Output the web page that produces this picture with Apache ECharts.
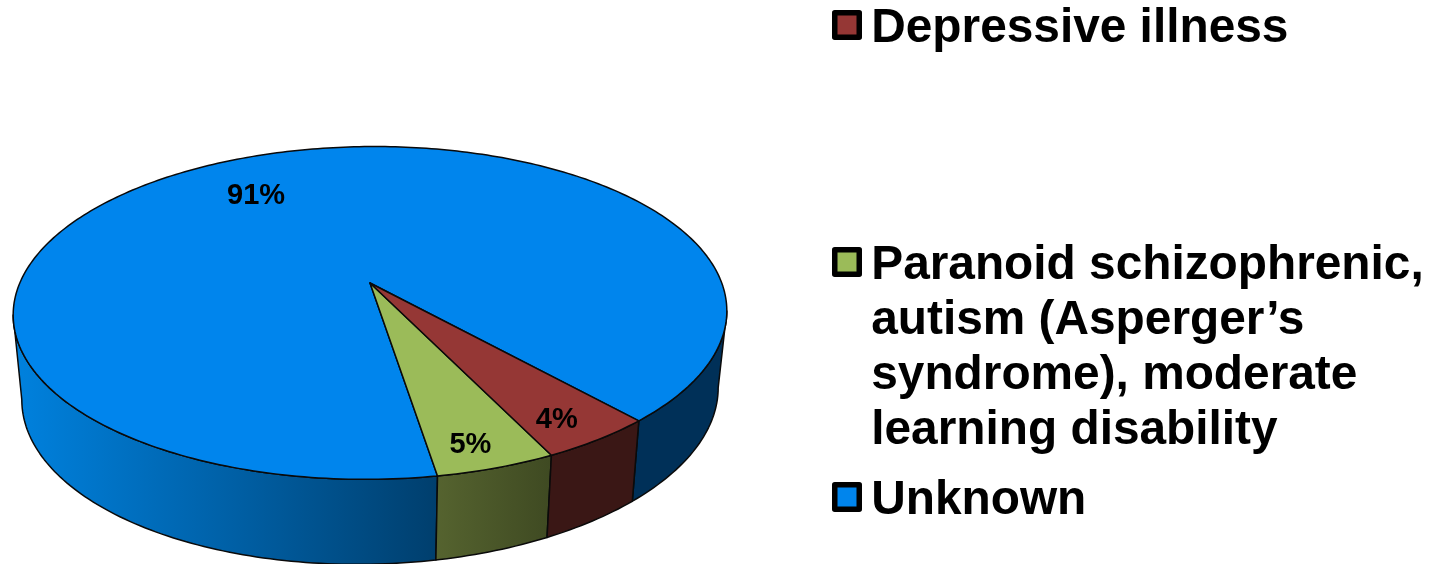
<!DOCTYPE html>
<html>
<head>
<meta charset="utf-8">
<style>html,body{margin:0;padding:0;background:#fff}#main{width:1441px;height:564px}</style>
<script src="https://cdn.jsdelivr.net/npm/echarts@6/dist/echarts.min.js"></script>
</head>
<body>
<div id="main"></div>
<script>
// slices in clockwise order from the red/blue edge
var sliceNames=['Depressive illness','Paranoid schizophrenic,\nautism (Asperger\u2019s\nsyndrome), moderate\nlearning disability','Unknown'];
var sliceValues=[4.4,4.6,91];
var sliceColors=['#953735','#9BBB59','#0085ED'];
var wallStops=[
  [[0,'#3A1715'],[1,'#3A1715']],
  [[0,'#55632F'],[1,'#3F4A22']],
  [[0,'#0080DC'],[0.3,'#0060A6'],[0.605,'#003E6C'],[0.605,'#003058'],[1,'#003058']]
];
var wallRange=[[540,640],[437,550],[23,716]];
var labelRadius=[0.875,0.89,0.70];
var labelShift=[1.8,1.6,-5.6];
var legendCentre=[25,262,497];

// projection of the pie disc (perspective, so the apex sits above the ellipse centre)
var START=48.5, K=0.18, AX=370;
var TOP={ay:283,a:351,b:161,tilt:2}, BOTTOM={ay:363,a:342.5,b:165,tilt:6};
var TANGENT=Math.asin(K)*180/Math.PI;

function project(plane,deg,r){
  var t=deg*Math.PI/180, x=r*Math.cos(t), y=r*Math.sin(t), w=1-K*y;
  return [AX+plane.a*x/w, plane.ay+plane.b*y/w-plane.tilt*x/w];
}
function arc(plane,a,b){
  var pts=[], d;
  for(d=a;d<b;d+=1) pts.push(project(plane,d,1));
  pts.push(project(plane,b,1));
  return pts;
}
function sliceAngles(i){
  var total=sliceValues.reduce(function(s,v){return s+v;},0), a=START, k;
  for(k=0;k<i;k++) a+=sliceValues[k]/total*360;
  return [a,a+sliceValues[i]/total*360];
}
function wallPieces(i,style){
  var ang=sliceAngles(i), out=[];
  [[TANGENT,180-TANGENT],[360+TANGENT,540-TANGENT]].forEach(function(v){
    var a=Math.max(ang[0],v[0]), b=Math.min(ang[1],v[1]);
    if(a>=b) return;
    out.push({type:'polygon',shape:{points:arc(TOP,a,b).concat(arc(BOTTOM,a,b).reverse())},style:style});
  });
  return out;
}
function renderSlice(i){
  return function(){
    var ang=sliceAngles(i), mid=(ang[0]+ang[1])/2+labelShift[i], lab=project(TOP,mid,labelRadius[i]);
    var edge={stroke:'#0a0a0a',lineWidth:1.5,lineJoin:'round'};
    var wallFill=new echarts.graphic.LinearGradient(wallRange[i][0],0,wallRange[i][1],0,
      wallStops[i].map(function(s){return {offset:s[0],color:s[1]};}),true);
    var kids=wallPieces(i,echarts.util.extend({fill:wallFill},edge));
    kids.push({type:'polygon',
      shape:{points:[project(TOP,0,0)].concat(arc(TOP,ang[0],ang[1]))},
      style:echarts.util.extend({fill:sliceColors[i]},edge)});
    kids.push({type:'text',z2:10,style:{
      x:lab[0],y:lab[1],text:Math.round(sliceValues[i])+'%',align:'center',verticalAlign:'middle',
      fill:'#000',font:'bold 29px "Liberation Sans"'}});
    return {type:'group',children:kids};
  };
}

var LINE=55, NUDGE=8;
var series=[2,1,0].map(function(i){
  return {type:'custom',name:sliceNames[i],coordinateSystem:'none',silent:true,animation:false,
    itemStyle:{color:sliceColors[i]},data:[[sliceValues[i]]],renderItem:renderSlice(i)};
});
var legends=sliceNames.map(function(n,i){
  var lines=n.split('\n'), extra=lines.length-1, blank=[];
  // blank lines keep the marker level with the first line, the thin line nudges text below marker centre
  for(var k=0;k<extra;k++) blank.push('{t| }');
  var label=['{g| }'].concat(blank,lines.map(function(l){return '{t|'+l+'}';})).join('\n');
  return {
    data:[n],left:832,top:legendCentre[i]-((2*extra+1)*LINE+NUDGE)/2,orient:'vertical',padding:0,
    selectedMode:false,itemWidth:24.5,itemHeight:24.5,icon:'rect',
    itemStyle:{borderColor:'#000',borderWidth:5.5,borderJoin:'round'},
    formatter:function(){return label;},
    textStyle:{padding:[0,0,0,7],rich:{
      g:{fontSize:1,lineHeight:NUDGE,height:NUDGE},
      t:{fontFamily:'Liberation Sans',fontWeight:'bold',fontSize:47.8,lineHeight:LINE,height:LINE,color:'#000'}
    }}
  };
});

var chart=echarts.init(document.getElementById('main'),null,{renderer:'canvas'});
chart.setOption({backgroundColor:'#fff',animation:false,legend:legends,series:series});
</script>
</body>
</html>
